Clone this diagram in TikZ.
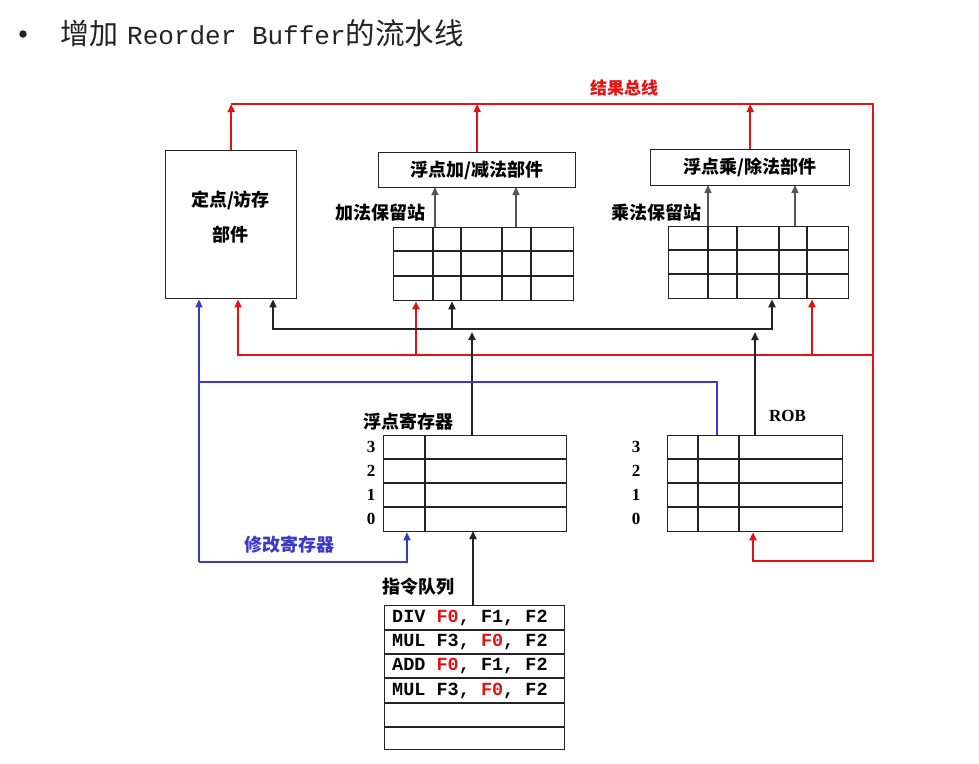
\documentclass[tikz,border=0pt]{standalone}
\usepackage{fontspec}
\setmainfont{Liberation Serif}
\newfontfamily\cjk{Noto Sans CJK SC}
\newfontfamily\monof{Liberation Mono}
\usetikzlibrary{arrows.meta}
\definecolor{busred}{RGB}{228,18,18}
\definecolor{busblue}{RGB}{58,58,200}
\definecolor{ln}{RGB}{35,35,35}
\definecolor{gln}{RGB}{85,85,85}
\begin{document}
\begin{tikzpicture}[x=1pt,y=-1pt,
  >={Triangle[length=8pt,width=7pt]},
  unitbox/.style={draw=ln, line width=1.4pt, fill=white, inner sep=0pt, anchor=north west},
  gridbox/.style={draw=ln, line width=1.3pt, inner sep=0pt, anchor=north west},
  gridln/.style={draw=ln, line width=1.3pt},
  redln/.style={draw=busred, line width=1.8pt},
  blueln/.style={draw=busblue, line width=1.5pt},
  blkln/.style={draw=ln, line width=1.8pt},
  grayln/.style={draw=gln, line width=1.5pt},
  lbl/.style={font=\cjk\bfseries\fontsize{18}{20}\selectfont, inner sep=0pt, anchor=west},
  num/.style={font=\bfseries\fontsize{17}{19}\selectfont, inner sep=0pt},
  code/.style={font=\monof\bfseries\fontsize{18.5}{20}\selectfont, inner sep=0pt, anchor=west}
]
\useasboundingbox[fill=white] (0,0) rectangle (979,763);

% title
\node[circle, fill=ln, minimum size=7.5pt, inner sep=0pt] (bullet) at (23,34) {};
\node[anchor=west, inner sep=0pt, text=ln] (title) at (60,33)
  {\cjk\fontsize{29}{32}\selectfont 增加\hspace{9pt}\monof\fontsize{26}{30}\selectfont Reorder Buffer\cjk\fontsize{29.5}{32}\selectfont 的流水线};

% units
\node[unitbox, minimum width=131pt, minimum height=148pt] (lsu) at (165,150) {};
\node[lbl, anchor=center] (lsut1) at (230.5,200) {定点/访存};
\node[lbl, anchor=center] (lsut2) at (230.5,235) {部件};

\node[unitbox, minimum width=197pt, minimum height=35pt,
      font=\cjk\bfseries\fontsize{18}{20}\selectfont] (add) at (378,152) {浮点加/减法部件};
\node[unitbox, minimum width=199pt, minimum height=36pt,
      font=\cjk\bfseries\fontsize{18}{20}\selectfont] (mul) at (650,149) {浮点乘/除法部件};

% reservation stations
\node[lbl] (arsl) at (335,213) {加法保留站};
\node[gridbox, minimum width=180pt, minimum height=73pt] (ars) at (393,227) {};
\foreach \x in {433,461,502,531} \draw[gridln] (\x,227) -- (\x,300);
\foreach \y in {251,276} \draw[gridln] (393,\y) -- (573,\y);

\node[lbl] (mrsl) at (611,213) {乘法保留站};
\node[gridbox, minimum width=180pt, minimum height=72pt] (mrs) at (668,226) {};
\foreach \x in {708,737,779,807} \draw[gridln] (\x,226) -- (\x,298);
\foreach \y in {250,274} \draw[gridln] (668,\y) -- (848,\y);

% register file
\node[lbl] (regl) at (363,422) {浮点寄存器};
\node[gridbox, minimum width=183pt, minimum height=96pt] (reg) at (383,435) {};
\draw[gridln] (425,435) -- (425,531);
\foreach \y in {459,483,507} \draw[gridln] (383,\y) -- (566,\y);
\node[num] (r3) at (371,447) {3};
\node[num] (r2) at (371,471) {2};
\node[num] (r1) at (371,495) {1};
\node[num] (r0) at (371,519) {0};

% ROB
\node[num, anchor=west] (robl) at (769,416) {ROB};
\node[gridbox, minimum width=175pt, minimum height=96pt] (rob) at (667,435) {};
\foreach \x in {698,739} \draw[gridln] (\x,435) -- (\x,531);
\foreach \y in {459,483,507} \draw[gridln] (667,\y) -- (842,\y);
\node[num] (o3) at (636,447) {3};
\node[num] (o2) at (636,471) {2};
\node[num] (o1) at (636,495) {1};
\node[num] (o0) at (636,519) {0};

% instruction queue
\node[lbl] (iql) at (382,587) {指令队列};
\node[gridbox, minimum width=180pt, minimum height=144pt] (iq) at (384,605) {};
\foreach \y in {630,654,678,703,727} \draw[gridln] (384,\y) -- (564,\y);
\node[code] (i1) at (392,617.5) {DIV \textcolor{busred}{F0}, F1, F2};
\node[code] (i2) at (392,642) {MUL F3, \textcolor{busred}{F0}, F2};
\node[code] (i3) at (392,666) {ADD \textcolor{busred}{F0}, F1, F2};
\node[code] (i4) at (392,690.5) {MUL F3, \textcolor{busred}{F0}, F2};

% bus labels
\node[lbl, text=busred, font=\cjk\bfseries\fontsize{17}{19}\selectfont] (cdbl) at (590,88) {结果总线};
\node[lbl, text=busblue] (modl) at (244,545) {修改寄存器};

% coordinates
\coordinate (rtl) at (230.5,104);
\coordinate (rtr) at (873,104);
\coordinate (rbr) at (873,561);
\coordinate (robin) at (753,561);
\coordinate (rb2) at (238,355);
\coordinate (rb2r) at (873,355);
\coordinate (rar) at (416,355);
\coordinate (rmr) at (812,355);
\coordinate (bb1) at (273,329);
\coordinate (bb2) at (772,329);
\coordinate (bar) at (452,329);
\coordinate (bjr) at (472,332);
\coordinate (bjo) at (755,332);
\coordinate (bl1) at (199,382);
\coordinate (bl2) at (717,382);
\coordinate (blb) at (199,562);
\coordinate (blr) at (407,562);

% red result bus
\draw[redln, ->] (lsu.north) -- (lsu.north |- rtl);
\draw[redln, ->] (add.north) -- (add.north |- rtl);
\draw[redln, ->] (mul.north) -- (mul.north |- rtl);
\draw[redln, ->] (rtl) -- (rtr) -- (rbr) -- (robin) -- (robin |- rob.south);
\draw[redln, ->] (rb2r) -- (rb2) -- (rb2 |- lsu.south);
\draw[redln, ->] (rar) -- (rar |- ars.south);
\draw[redln, ->] (rmr) -- (rmr |- mrs.south);

% black operand bus
\draw[blkln, ->] (bb2) -- (bb1) -- (bb1 |- lsu.south);
\draw[blkln, ->] (bb1) -- (bb2) -- (bb2 |- mrs.south);
\draw[blkln, ->] (bar) -- (bar |- ars.south);
\draw[blkln, ->] (reg.north -| bjr) -- (bjr);
\draw[blkln, ->] (rob.north -| bjo) -- (bjo);
\draw[blkln, ->] (iq.north -| 473,0) -- (473,531);

% gray RS -> unit
\draw[grayln, ->] (ars.north -| 435,0) -- (435,187);
\draw[grayln, ->] (ars.north -| 516,0) -- (516,187);
\draw[grayln, ->] (mrs.north -| 708,0) -- (708,185);
\draw[grayln, ->] (mrs.north -| 795,0) -- (795,185);

% blue
\draw[blueln] (rob.north -| bl2) -- (bl2) -- (bl1);
\draw[blueln, ->] (blb) -- (blb |- lsu.south);
\draw[blueln, ->] (blb) -- (blr) -- (blr |- reg.south);
\end{tikzpicture}
\end{document}
